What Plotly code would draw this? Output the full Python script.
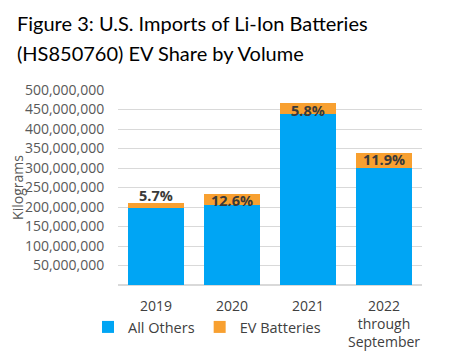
import plotly.graph_objects as go

categories = ["2019", "2020", "2021", "2022<br>through<br>September"]
all_others = [197.5e6, 205e6, 439e6, 299e6]
ev_batteries = [12e6, 29.6e6, 27e6, 40.3e6]
ev_share_labels = ["5.7%", "12.6%", "5.8%", "11.9%"]
tick_values = [50e6 * i for i in range(1, 11)]
tick_labels = [f"{int(v):,}" for v in tick_values]
title_lines = ["Figure 3: U.S. Imports of Li-Ion Batteries", "(HS850760) EV Share by Volume"]

BLUE = "#00A5F4"
ORANGE = "#F8A030"
FONT = "Open Sans"

# page has an 8px body margin, so the figure is drawn 8px smaller and offset
OFF = 8
W, H = 449 - OFF, 359 - OFF
L, R, T, B = 118 - OFF, 27, 90 - OFF, 74
PW, PH = W - L - R, H - T - B

xpos = list(range(len(categories)))

fig = go.Figure()
fig.add_trace(go.Bar(x=xpos, y=all_others, name="All Others",
                     marker=dict(color=BLUE, line=dict(width=0))))
fig.add_trace(go.Bar(x=xpos, y=ev_batteries, name="EV Batteries",
                     marker=dict(color=ORANGE, line=dict(width=0))))

totals = [a + b for a, b in zip(all_others, ev_batteries)]
shifts = [8, -7, -7, -7]
for xp, t, lab, s in zip(xpos, totals, ev_share_labels, shifts):
    fig.add_annotation(x=xp, y=t, text=f"<b>{lab}</b>", showarrow=False,
                       yshift=s, font=dict(family=FONT, size=14.5, color="#3a3a3a"))

for line, ycen in zip(title_lines, [23 - OFF, 53 - OFF]):
    fig.add_annotation(text=line, xref="paper", yref="paper",
                       x=(15 - OFF - L) / PW, xanchor="left",
                       y=1 + (T - ycen) / PH, yanchor="middle", align="left",
                       showarrow=False,
                       font=dict(family="Lato", size=20, color="#000000"))

fig.update_layout(
    width=W, height=H,
    barmode="stack", bargap=0.26,
    plot_bgcolor="white", paper_bgcolor="white",
    margin=dict(l=L, r=R, t=T, b=B),
    legend=dict(orientation="h", x=-30 / PW, xanchor="left",
                y=-42 / PH, yanchor="middle",
                font=dict(family=FONT, size=14.5, color="#404040"),
                itemwidth=30, tracegroupgap=0, traceorder="normal",
                bgcolor="rgba(0,0,0,0)"),
    showlegend=True,
)
fig.update_yaxes(range=[0, 500e6], tickvals=tick_values, ticktext=tick_labels,
                 showgrid=True, gridcolor="#d9d9d9", gridwidth=1,
                 zeroline=True, zerolinecolor="#d9d9d9", showline=False,
                 automargin=False,
                 tickfont=dict(family=FONT, size=14, color="#595959"),
                 ticks="outside", ticklen=10, tickcolor="rgba(0,0,0,0)",
                 title=dict(text="Kilograms", standoff=4,
                            font=dict(family=FONT, size=14, color="#595959")))
fig.update_xaxes(range=[-0.5, len(categories) - 0.5], tickvals=xpos, ticktext=categories,
                 tickfont=dict(family=FONT, size=14, color="#404040"),
                 showline=False, showgrid=False, zeroline=False, automargin=False,
                 ticks="outside", ticklen=8, tickcolor="rgba(0,0,0,0)")

fig.write_html("out.html")
